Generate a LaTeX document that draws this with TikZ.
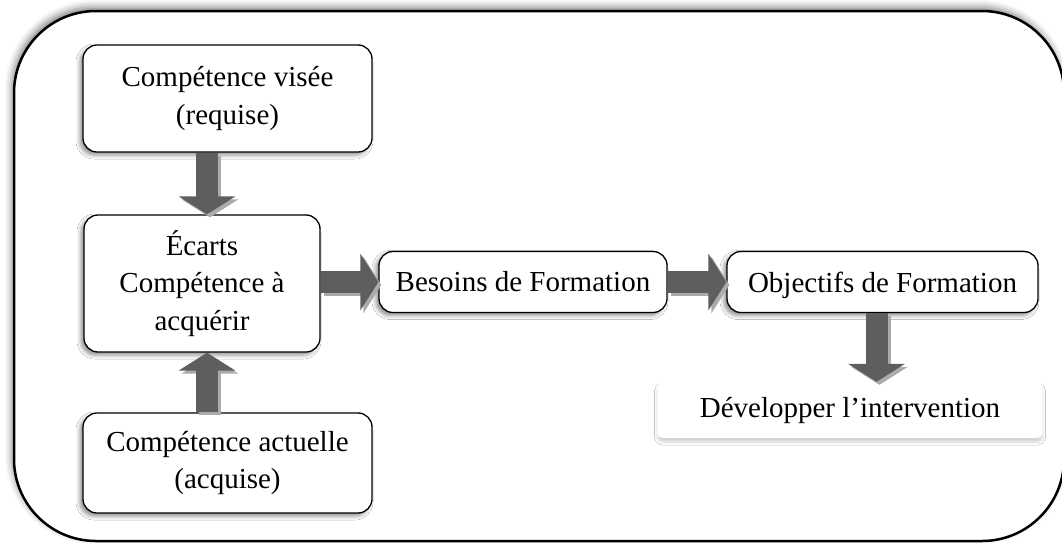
\documentclass[tikz,border=0pt]{standalone}
\usepackage{fontspec}
\setmainfont{Liberation Serif}
\usetikzlibrary{shadows.blur,arrows.meta,calc}
\definecolor{arrowgray}{HTML}{5E5E5E}
\definecolor{arrowshade}{HTML}{ABABAB}
\begin{document}
\begin{tikzpicture}[x=1pt,y=-1pt,
  box/.style={draw=black, line width=1.3pt, rounded corners=14pt, fill=white,
    align=center, font=\fontsize{29}{37.5}\selectfont, inner sep=0pt,
    blur shadow={shadow xshift=-3pt, shadow yshift=-3pt, shadow blur radius=4pt, shadow opacity=45}},
  plainbox/.style={draw=none, rounded corners=5pt, fill=white,
    align=center, font=\fontsize{29}{37.5}\selectfont, inner sep=0pt,
    blur shadow={shadow xshift=0pt, shadow yshift=-4pt, shadow blur radius=3pt, shadow opacity=18}},
  bigarrow/.style={line width=22pt, draw=arrowgray, -{Triangle[width=56pt,length=18pt]}},
  arrowshadow/.style={line width=22pt, draw=arrowshade, -{Triangle[width=56pt,length=18pt]},
    transform canvas={xshift=3pt,yshift=-3pt}}
]
\useasboundingbox (0,0) rectangle (1062,542);
% outer frame
\draw[line width=2.5pt, rounded corners=82pt, fill=white,
  blur shadow={shadow xshift=-2pt, shadow yshift=4pt, shadow blur radius=7pt, shadow opacity=50}]
  (14,11) rectangle (1064,541);
% nodes
\node[box, minimum width=289pt, minimum height=107pt] (A) at (227.5,98.5) {Compétence visée\\(requise)};
\node[box, minimum width=236pt, minimum height=137pt] (B) at (202,283.5) {Écarts\\Compétence à\\acquérir};
\node[box, minimum width=288pt, minimum height=61pt] (C) at (523,282) {Besoins de Formation};
\node[box, minimum width=311pt, minimum height=61pt, text depth=0pt] (D) at (882.5,282) {Objectifs de Formation};
\node[plainbox, minimum width=385pt, minimum height=56pt] (E) at (850,410) {Développer l’intervention};
\node[box, minimum width=289pt, minimum height=100pt] (F) at (227.5,463) {Compétence actuelle\\(acquise)};
% arrows
\foreach \s in {arrowshadow,bigarrow}{
  \draw[\s] ([xshift=5pt]B.north |- A.south) -- ([xshift=5pt]B.north);
  \draw[\s] ([xshift=5pt]B.south |- F.north) -- ([xshift=5pt]B.south);
  \draw[\s] (B.east |- C.west) -- (C.west);
  \draw[\s] (C.east) -- (D.west);
  \draw[\s] ([xshift=-6pt]D.south) -- ([xshift=-6pt]D.south |- E.north);
}
\end{tikzpicture}
\end{document}
